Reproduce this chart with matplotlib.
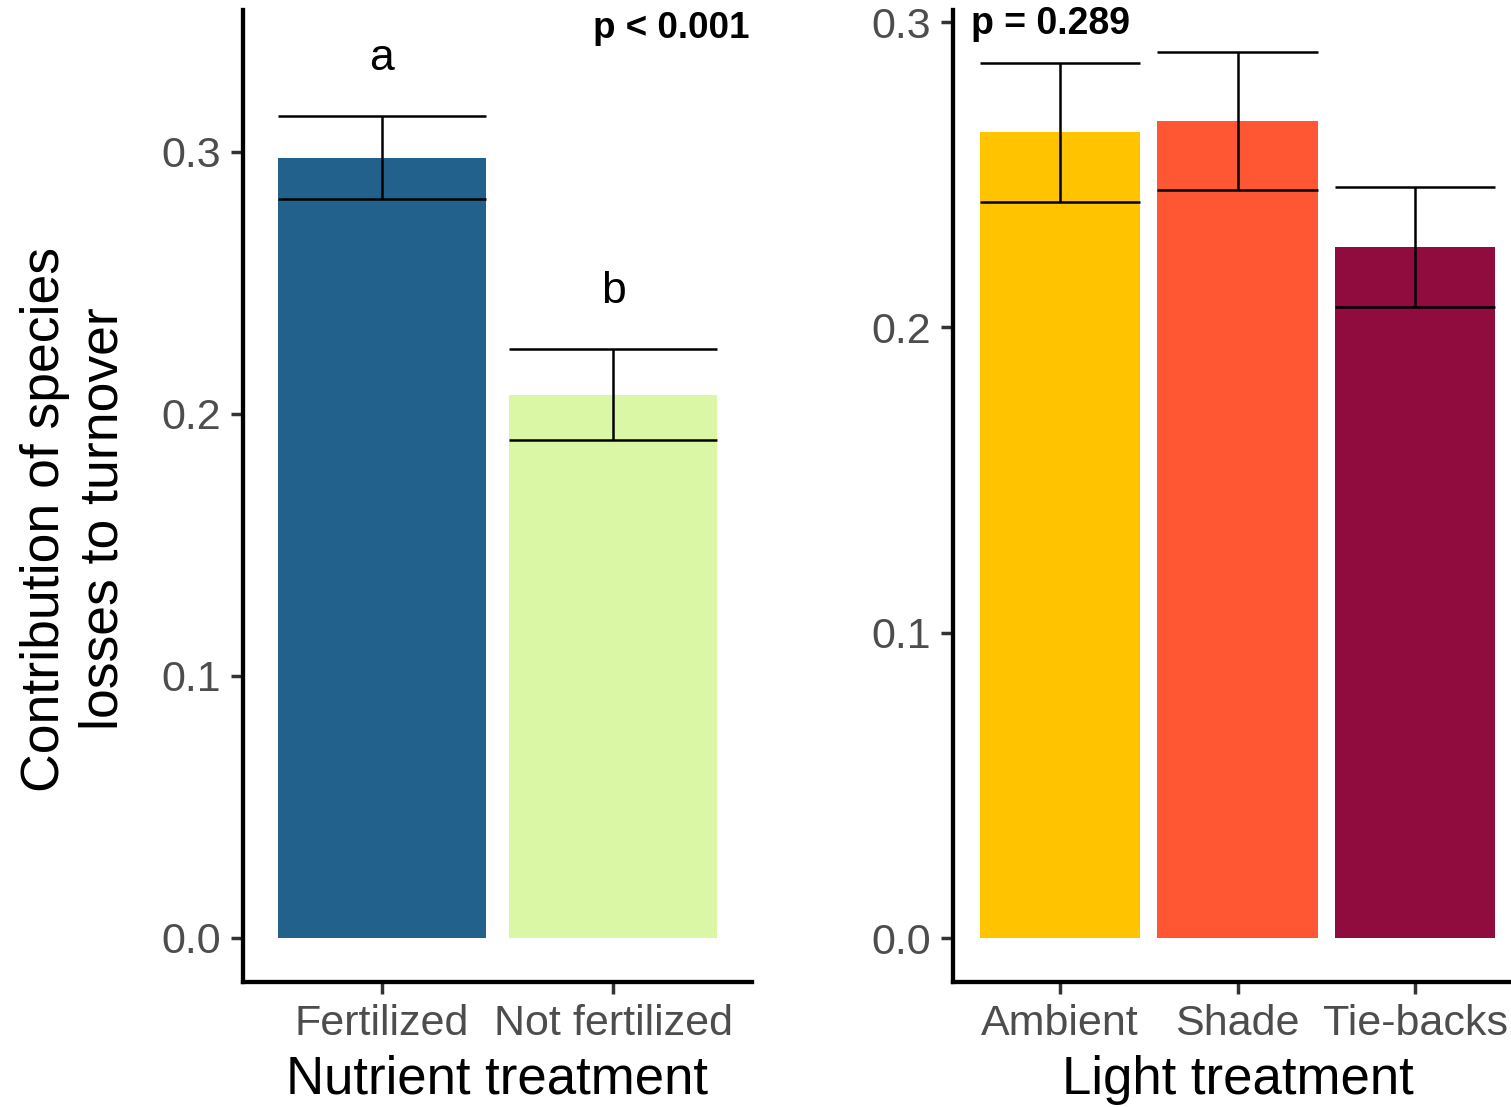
import matplotlib
matplotlib.use("Agg")
import matplotlib.pyplot as plt
import numpy as np

plt.rcParams['font.family'] = ['Liberation Sans', 'DejaVu Sans']

# Nutrient treatment panel
nutrient_groups = ["Fertilized", "Not fertilized"]
nutrient_means = [0.2977, 0.2073]
nutrient_se = [0.0159, 0.0174]
nutrient_colors = ["#21618C", "#DAF7A6"]
nutrient_letters = ["a", "b"]
nutrient_p = "p < 0.001"

# Light treatment panel
light_groups = ["Ambient", "Shade", "Tie-backs"]
light_means = [0.2640, 0.2676, 0.2263]
light_se = [0.0228, 0.0225, 0.0197]
light_colors = ["#FFC300", "#FF5733", "#900C3F"]
light_p = "p = 0.289"

left_yticks = [0.0, 0.1, 0.2, 0.3]
right_yticks = [0.0, 0.1, 0.2, 0.3]

W, H = 1511, 1107
fig = plt.figure(figsize=(W / 100, H / 100), dpi=100)

ax1 = fig.add_axes([243 / W, 1 - 982 / H, (752 - 243) / W, (982 - 10) / H])
ax2 = fig.add_axes([953 / W, 1 - 982 / H, (1522 - 953) / W, (982 - 10) / H])

bar_w = 0.9
tick_col = "#333333"
lab_col = "#4D4D4D"


def draw_panel(ax, groups, means, se, colors, ylim, yticks, xlabel):
    x = np.arange(1, len(groups) + 1)
    ax.bar(x, means, width=bar_w, color=colors, zorder=1)
    lo = np.array(means) - np.array(se)
    hi = np.array(means) + np.array(se)
    ax.vlines(x, lo, hi, color="black", lw=1.8, zorder=3)
    ax.hlines(lo, x - bar_w / 2, x + bar_w / 2, color="black", lw=1.8, zorder=3)
    ax.hlines(hi, x - bar_w / 2, x + bar_w / 2, color="black", lw=1.8, zorder=3)
    ax.set_xlim(0.4, len(groups) + 0.6)
    ax.set_ylim(*ylim)
    ax.set_xticks(x)
    ax.set_xticklabels(groups)
    ax.set_yticks(yticks)
    ax.set_yticklabels([f"{t:.1f}" for t in yticks])
    for s in ["top", "right"]:
        ax.spines[s].set_visible(False)
    for s in ["left", "bottom"]:
        ax.spines[s].set_linewidth(3.1)
        ax.spines[s].set_color("black")
    ax.tick_params(axis="both", length=8.5, width=2.5, color=tick_col,
                   labelcolor=lab_col, labelsize=31, pad=7)
    ax.set_xlabel(xlabel, fontsize=38, color="black", labelpad=8)
    ax.set_facecolor("white")


draw_panel(ax1, nutrient_groups, nutrient_means, nutrient_se, nutrient_colors,
           (-0.0168, 0.354), left_yticks, "Nutrient treatment")
draw_panel(ax2, light_groups, light_means, light_se, light_colors,
           (-0.0144, 0.304), right_yticks, "Light treatment")

# Significance letters above the nutrient bars
for i, (m, s, let) in enumerate(zip(nutrient_means, nutrient_se, nutrient_letters)):
    ax1.text(i + 1, m + s + 0.022, let, ha="center", va="center", fontsize=32)

ax1.text(2.25, 0.347, nutrient_p, ha="center", va="center", fontsize=26.5,
         fontweight="bold")
ax2.text(0.95, 0.2994, light_p, ha="center", va="center", fontsize=27,
         fontweight="bold")

fig.text(74 / W, 1 - 519 / H, "Contribution of species\nlosses to turnover",
         rotation=90, ha="center", va="center", fontsize=38.5,
         multialignment="center", linespacing=1.22)

fig.savefig("out.png", dpi=100, facecolor="white")
